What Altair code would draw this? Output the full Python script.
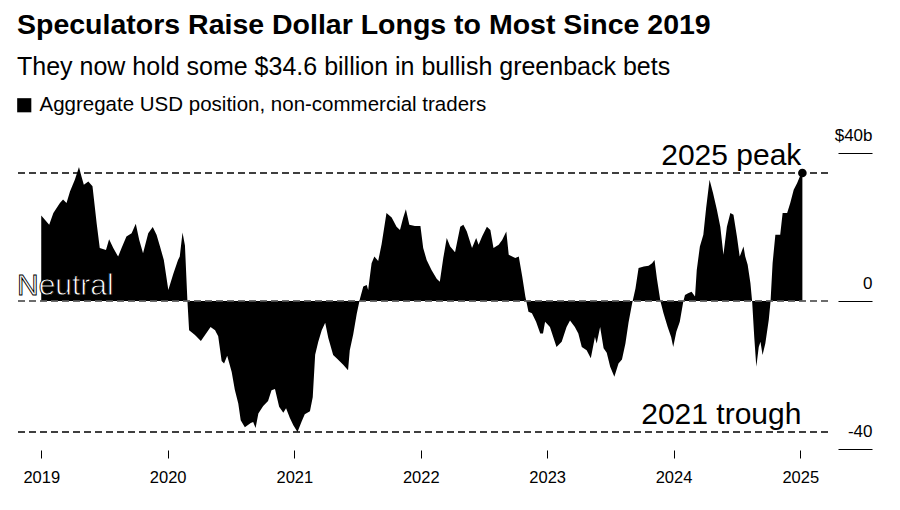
import altair as alt
import pandas as pd

# ---------------- data ----------------
dates = [
    "2019-01-01", "2019-01-24", "2019-02-05", "2019-02-24", "2019-03-05", "2019-03-15", "2019-03-25",
    "2019-04-08", "2019-04-20", "2019-04-27", "2019-05-04", "2019-05-17", "2019-05-29", "2019-06-10",
    "2019-06-19", "2019-07-07", "2019-07-16", "2019-07-28", "2019-08-11", "2019-08-21", "2019-09-04",
    "2019-09-19", "2019-10-01", "2019-10-11", "2019-10-22", "2019-11-06", "2019-11-19", "2019-11-30",
    "2019-12-10", "2019-12-21",
    "2020-01-03", "2020-01-17", "2020-01-31", "2020-02-05", "2020-02-13", "2020-02-20", "2020-02-27",
    "2020-03-03", "2020-03-20", "2020-04-06", "2020-04-18", "2020-05-04", "2020-05-17", "2020-05-26",
    "2020-06-05", "2020-06-12", "2020-06-21", "2020-07-04", "2020-07-13", "2020-07-23", "2020-07-30",
    "2020-08-11", "2020-08-28", "2020-09-04", "2020-09-11", "2020-09-19", "2020-10-03", "2020-10-17",
    "2020-10-27", "2020-11-06", "2020-11-18", "2020-11-30", "2020-12-08", "2020-12-19", "2020-12-29",
    "2021-01-10", "2021-01-22", "2021-01-31", "2021-02-15", "2021-02-23", "2021-03-02", "2021-03-11",
    "2021-03-21", "2021-03-31", "2021-04-09", "2021-04-23", "2021-05-03", "2021-05-22", "2021-06-05",
    "2021-06-10", "2021-06-20", "2021-06-30", "2021-07-09", "2021-07-19", "2021-07-29", "2021-08-02",
    "2021-08-12", "2021-08-20", "2021-08-31", "2021-09-10", "2021-09-24", "2021-10-09", "2021-10-23",
    "2021-11-02", "2021-11-11", "2021-11-19", "2021-11-29", "2021-12-15", "2021-12-31",
    "2022-01-08", "2022-01-18", "2022-02-01", "2022-02-16", "2022-02-25", "2022-03-07", "2022-03-17",
    "2022-03-27", "2022-04-10", "2022-04-25", "2022-05-04", "2022-05-14", "2022-05-29", "2022-06-10",
    "2022-06-17", "2022-06-27", "2022-07-11", "2022-07-21", "2022-07-30", "2022-08-14", "2022-08-24",
    "2022-09-05", "2022-09-12", "2022-09-22", "2022-10-01", "2022-10-11", "2022-10-21", "2022-10-30",
    "2022-11-08", "2022-11-18", "2022-11-30", "2022-12-12", "2022-12-20", "2022-12-26",
    "2023-01-09", "2023-01-28", "2023-02-12", "2023-02-26", "2023-03-08", "2023-03-22", "2023-04-01",
    "2023-04-11", "2023-04-25", "2023-05-07", "2023-05-19", "2023-05-24", "2023-06-03", "2023-06-13",
    "2023-06-22", "2023-07-02", "2023-07-14", "2023-07-26", "2023-08-05", "2023-08-15", "2023-08-24",
    "2023-09-03", "2023-09-13", "2023-09-22", "2023-10-07", "2023-10-21", "2023-10-31", "2023-11-07",
    "2023-11-14", "2023-11-24", "2023-12-03", "2023-12-15", "2023-12-25", "2023-12-31",
    "2024-01-09", "2024-01-19", "2024-01-29", "2024-02-03", "2024-02-12", "2024-02-22", "2024-03-03",
    "2024-03-08", "2024-03-17", "2024-03-27", "2024-04-04", "2024-04-14", "2024-04-24", "2024-05-05",
    "2024-05-15", "2024-05-24", "2024-06-03", "2024-06-13", "2024-06-22", "2024-07-02", "2024-07-10",
    "2024-07-21", "2024-07-26", "2024-08-02", "2024-08-10", "2024-08-15", "2024-08-21", "2024-08-27",
    "2024-09-03", "2024-09-08", "2024-09-14", "2024-09-22", "2024-10-02", "2024-10-07", "2024-10-13",
    "2024-10-21", "2024-11-04", "2024-11-11", "2024-11-24", "2024-12-03", "2024-12-13", "2024-12-23",
    "2024-12-31", "2025-01-07",
]

values = [
    23.1, 20.6, 23.8, 26.5, 27.4, 26.5, 29.6,
    32.8, 36.2, 33.7, 31.4, 32.3, 31.0, 21.0,
    14.3, 13.8, 16.7, 14.3, 12.0, 14.3, 17.4,
    18.3, 20.9, 16.5, 12.9, 18.3, 20.0, 17.9,
    14.7, 11.1,
    3.0, 7.2, 11.1, 12.0, 18.5, 15.0, 0.3,
    -7.9, -9.2, -10.8, -9.2, -7.0, -7.9, -9.5,
    -16.2, -16.9, -14.8, -19.2, -24.0, -27.7, -32.2,
    -34.1, -33.0, -32.7, -34.3, -30.4, -28.4, -27.0,
    -24.1, -23.8, -28.6, -30.2, -29.0, -31.6, -33.6,
    -35.4, -32.6, -30.6, -29.8, -26.0, -14.5, -11.0,
    -7.9, -5.9, -10.0, -14.6, -15.5, -17.2, -18.7,
    -13.3, -9.0, -3.5, 0.5, 3.9, 4.3, 3.0,
    10.2, 12.0, 10.8, 15.4, 23.8, 22.6, 20.1,
    19.2, 22.4, 24.8, 20.6, 20.3, 20.3,
    14.3, 11.1, 8.4, 6.0, 5.2, 11.6, 17.0,
    14.7, 13.2, 20.1, 20.6, 18.8, 14.3, 17.0,
    15.2, 17.4, 20.1, 19.2, 14.3, 15.2, 16.5,
    18.8, 12.5, 12.0, 11.6, 12.0, 6.6, 1.2,
    -2.9, -3.3, -5.6, -8.8, -8.8, -5.6,
    -7.0, -12.4, -11.0, -7.0, -5.3, -7.0, -8.8,
    -12.4, -13.3, -15.5, -9.7, -11.5, -7.0, -12.8,
    -14.0, -17.8, -20.5, -16.9, -15.8, -11.5, -5.8,
    -0.8, 3.4, 8.9, 9.3, 9.5, 10.2, 11.1,
    6.0, 0.0, -3.3, -7.0, -9.7, -12.4,
    -8.3, -5.6, -0.2, 1.6, 2.1, 2.5, 1.2,
    8.4, 14.7, 17.9, 25.1, 32.8, 29.2, 24.7,
    20.1, 12.5, 20.1, 23.8, 23.3, 17.4, 12.0,
    14.7, 12.0, 9.8, 4.8, -0.2, -9.7, -17.8,
    -12.4, -11.0, -14.6, -11.5, -5.1, -0.2, 10.2,
    17.9, 17.9, 23.8, 23.8, 26.5, 30.1, 31.9,
    33.7, 34.6,
]

legend_label = "Aggregate USD position, non-commercial traders"
title_text = "Speculators Raise Dollar Longs to Most Since 2019"
subtitle_text = "They now hold some $34.6 billion in bullish greenback bets"

ref_values = [34.6, -35.4]           # 2025 peak, 2021 trough
ref_labels = ["2025 peak", "2021 trough"]
neutral_label = "Neutral"
year_ticks = [2019, 2020, 2021, 2022, 2023, 2024, 2025]
y_ticks = [-40, 0, 40]
y_domain = [-40, 40]

# ---------------- chart ----------------
FONT = "Liberation Sans"
W, H = 811, 296

df = pd.DataFrame({"date": dates, "value": values, "series": legend_label})
last = df.iloc[[-1]].copy()

x_scale = alt.Scale(domain=[alt.DateTime(year=2018, month=10, date=23),
                            alt.DateTime(year=2025, month=3, date=22)])
x_axis = alt.Axis(
    values=[alt.DateTime(year=y, month=1, date=1) for y in year_ticks],
    format="%Y", title=None, grid=False, domain=False,
    tickSize=8, tickColor="black", tickWidth=1, offset=1,
    labelFont=FONT, labelFontSize=16.5, labelColor="black", labelPadding=11,
)
y_axis = alt.Axis(
    orient="right", values=y_ticks, title=None, grid=False, domain=False,
    tickSize=34, tickColor="black", tickWidth=1.2, offset=10,
    labelAlign="right", labelBaseline="alphabetic", labelPadding=0, labelOffset=-13,
    labelFont=FONT, labelFontSize=17, labelColor="black",
    labelExpr="datum.value == 40 ? '$40b' : replace(datum.label, '\u2212', '-')",
)
x_enc = alt.X("date:T", scale=x_scale, axis=x_axis)
y_enc = alt.Y("value:Q", scale=alt.Scale(domain=y_domain), axis=y_axis)

ref_df = pd.DataFrame({"value": ref_values, "label": ref_labels,
                       "date": [dates[-1], dates[-1]]})

ref_rules = alt.Chart(ref_df).mark_rule(
    color="black", strokeDash=[7, 4], strokeWidth=1.6
).encode(y=y_enc)

area = alt.Chart(df).mark_area(interpolate="linear").encode(
    x=x_enc, y=y_enc,
    color=alt.Color("series:N",
                    scale=alt.Scale(domain=[legend_label], range=["black"]),
                    legend=alt.Legend(orient="none", legendX=-3, legendY=-58, title=None,
                                      symbolType="square", symbolSize=200,
                                      symbolStrokeWidth=0, labelFont=FONT,
                                      labelFontSize=20.5, labelColor="black",
                                      labelLimit=0, labelOffset=5, padding=0)),
)

zero_df = pd.DataFrame({"value": [0]})
zero_under = alt.Chart(zero_df).mark_rule(
    color="black", strokeDash=[7, 4], strokeWidth=1.6
).encode(y=y_enc)
zero_over = alt.Chart(zero_df).mark_rule(
    color="#9a9a9a", strokeDash=[7, 4], strokeWidth=1
).encode(y=y_enc)

dot = alt.Chart(last).mark_circle(size=75, color="black", opacity=1).encode(x=x_enc, y=y_enc)

ref_text = alt.Chart(ref_df).mark_text(
    align="right", baseline="alphabetic", dx=-1, dy=-8,
    font=FONT, fontSize=30, color="black"
).encode(x=x_enc, y=y_enc, text="label:N")

neutral_df = pd.DataFrame({"date": ["2018-10-23"], "value": [0], "label": [neutral_label]})
neutral_text = alt.Chart(neutral_df).mark_text(
    align="left", baseline="alphabetic", dy=-6,
    font=FONT, fontSize=30, fill="white", stroke="black", strokeWidth=0.9
).encode(x=x_enc, y=y_enc, text="label:N")

chart = alt.layer(
    ref_rules, zero_under, area, zero_over, dot, ref_text, neutral_text
).properties(
    width=W, height=H,
    background="white",
    padding={"left": 6, "top": 2, "right": 5, "bottom": 5},
    title=alt.Title(
        text=title_text, subtitle=subtitle_text, anchor="start", frame="group",
        font=FONT, fontSize=28.5, fontWeight="bold", color="black",
        subtitleFont=FONT, subtitleFontSize=25, subtitleColor="black",
        subtitlePadding=16, offset=15,
    ),
).configure_view(stroke=None)

chart.save("out.html", embed_options={"renderer": "svg", "actions": False})
